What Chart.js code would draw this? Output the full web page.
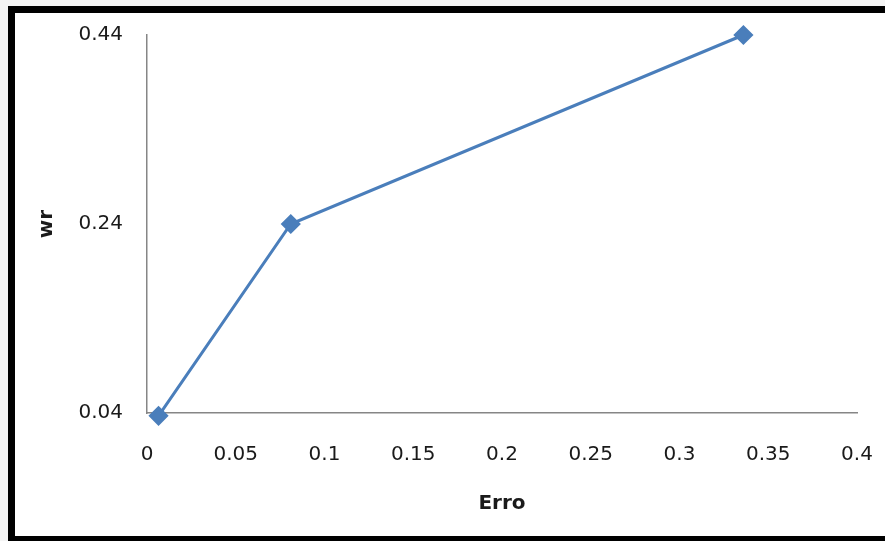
<!DOCTYPE html>
<html>
<head>
<meta charset="utf-8">
<script src="https://cdn.jsdelivr.net/npm/chart.js@4"></script>
<style>
  html, body { margin: 0; padding: 0; background: #f4f4f4; overflow: hidden; }
  #frame {
    position: absolute; left: 8px; top: 6px; width: 900px; height: 523px;
    background: #fff; border-top: 7px solid #000; border-left: 7px solid #000; border-bottom: 6px solid #000;
  }
  #chart { position: absolute; left: 0; top: 0; }
</style>
</head>
<body>
<div id="frame"></div>
<canvas id="chart" width="885" height="541"></canvas>
<script>
// values
const erroValues = [0.0065, 0.081, 0.336];
const wrValues = [0.037, 0.24, 0.44];
const xTicks = [0, 0.05, 0.1, 0.15, 0.2, 0.25, 0.3, 0.35, 0.4];
const yTicks = [0.04, 0.24, 0.44];

const points = erroValues.map((x, i) => ({ x: x, y: wrValues[i] }));
const tickFont = { family: 'DejaVu Sans', size: 20 };
const titleFont = { family: 'DejaVu Sans', size: 20, weight: 'bold' };
const axisColor = '#868686';
const textColor = '#1a1a1a';

new Chart(document.getElementById('chart'), {
    type: 'scatter',
    data: {
        datasets: [{
            data: points,
            showLine: true,
            borderColor: '#4a7ebb',
            backgroundColor: '#4a7ebb',
            borderWidth: 3,
            pointStyle: 'rectRot',
            pointRadius: 8,
            pointHoverRadius: 8,
            clip: false
        }]
    },
    options: {
        responsive: false,
        animation: false,
        layout: { padding: { top: 35, right: 28, bottom: 0, left: 0 } },
        plugins: { legend: { display: false }, tooltip: { enabled: false } },
        scales: {
            x: {
                type: 'linear',
                min: 0,
                max: 0.4,
                afterBuildTicks: (scale) => { scale.ticks = xTicks.map(v => ({ value: v })); },
                afterFit: (scale) => {
                    scale.height = 128;
                    scale.paddingLeft = 0;
                    scale.paddingRight = 0;
                },
                grid: { display: false, drawTicks: false },
                border: { display: true, color: axisColor, width: 1.5 },
                ticks: { font: tickFont, color: textColor, padding: 30, maxRotation: 0, callback: v => String(v) },
                title: { display: true, text: 'Erro', font: titleFont, color: textColor, padding: { top: 0, bottom: 25 } }
            },
            y: {
                type: 'linear',
                min: 0.04,
                max: 0.44,
                afterBuildTicks: (scale) => { scale.ticks = yTicks.map(v => ({ value: v })); },
                afterFit: (scale) => {
                    scale.width = 147;
                    scale.paddingTop = 0;
                    scale.paddingBottom = 0;
                },
                grid: { display: false, drawTicks: false },
                border: { display: true, color: axisColor, width: 1.5 },
                ticks: { font: tickFont, color: textColor, padding: 24, callback: v => String(v) },
                title: { display: true, text: 'wr', font: titleFont, color: textColor, padding: { top: 35, bottom: 0 } }
            }
        }
    }
});
</script>
</body>
</html>
